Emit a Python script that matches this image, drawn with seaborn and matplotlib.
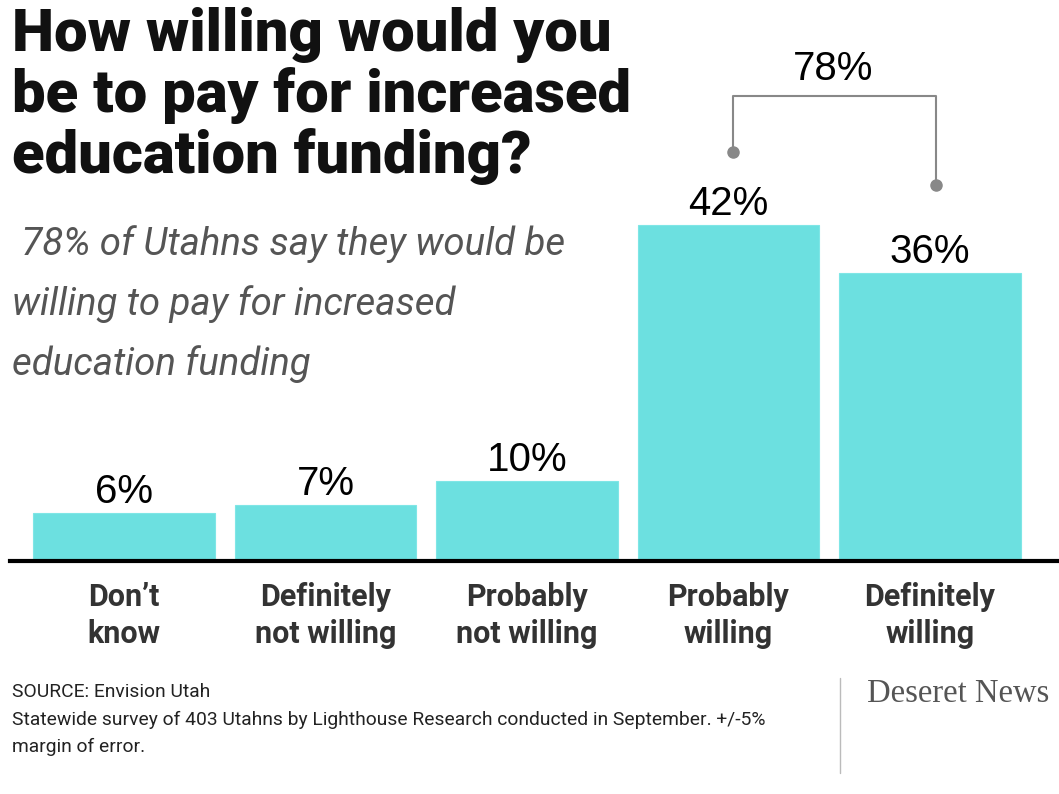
import matplotlib
matplotlib.use("Agg")
import matplotlib.pyplot as plt
import seaborn as sns
import pandas as pd

categories = ["Don\u2019t\nknow", "Definitely\nnot willing", "Probably\nnot willing", "Probably\nwilling", "Definitely\nwilling"]
values = [6, 7, 10, 42, 36]
value_labels = ["6%", "7%", "10%", "42%", "36%"]
bracket_label = "78%"
title_lines = ["How willing would you", "be to pay for increased", "education funding?"]
subtitle_lines = [" 78% of Utahns say they would be", "willing to pay for increased", "education funding"]
footer_lines = ["SOURCE: Envision Utah",
                "Statewide survey of 403 Utahns by Lighthouse Research conducted in September. +/-5%",
                "margin of error."]

sns.set_theme(style="white")
plt.rcParams['font.family'] = ['Liberation Sans', 'DejaVu Sans']

W, H = 1059, 794
fig = plt.figure(figsize=(W / 100, H / 100), dpi=100)
ax_left, ax_right = 10, 1059
ax_bottom, ax_top = 561, 40
ax = fig.add_axes([ax_left / W, 1 - ax_bottom / H, (ax_right - ax_left) / W, (ax_bottom - ax_top) / H])

df = pd.DataFrame({"cat": categories, "val": values})
sns.barplot(data=df, x="cat", y="val", color="#6CE0E0", saturation=1, width=0.9, ax=ax,
            edgecolor="#7FE6E6", linewidth=0.8)
ax.set_xlim(-0.566, 4.64)
ax.set_ylim(0, (ax_bottom - ax_top) / 8)
ax.set_xlabel("")
ax.set_ylabel("")
ax.set_yticks([])
sns.despine(ax=ax, left=True, top=True, right=True)
ax.spines["bottom"].set_color("black")
ax.spines["bottom"].set_linewidth(3)
ax.tick_params(axis="x", length=0, pad=15)
for lab in ax.get_xticklabels():
    lab.set_fontfamily("Roboto")
    lab.set_fontweight("bold")
    lab.set_fontsize(22)
    lab.set_color("#333333")
    lab.set_linespacing(1.3)

for i, (v, t) in enumerate(zip(values, value_labels)):
    ax.text(i, v + 1.3, t, ha="center", va="baseline", fontsize=29, color="black")

# bracket
yb = 58.1
ax.plot([3.02, 3.02, 4.03, 4.03], [51.1, yb, yb, 47.0], color="#888888", lw=1.5, clip_on=False)
ax.plot([3.02, 4.03], [51.1, 47.0], "o", color="#888888", ms=8, clip_on=False)
ax.text(3.52, 60.1, bracket_label, ha="center", va="baseline", fontsize=29, color="black")

# title
for line, yb_px in zip(title_lines, [51, 112, 173]):
    fig.text(12 / W, 1 - yb_px / H, line, ha="left", va="baseline", fontsize=43,
             fontweight="black", family="Roboto", color="#111111")
for line, yb_px in zip(subtitle_lines, [255, 315, 375]):
    fig.text(12 / W, 1 - yb_px / H, line, ha="left", va="baseline", fontsize=27.6,
             style="italic", fontweight="normal", family="Roboto", color="#555555")

# footer
for line, yb_px in zip(footer_lines, [697, 725, 752]):
    fig.text(12 / W, 1 - yb_px / H, line, ha="left", va="baseline", fontsize=13.9,
             family="Roboto", color="#222222")
fig.add_artist(plt.Line2D([840 / W, 840 / W], [1 - 678 / H, 1 - 773 / H], color="#bbbbbb", lw=1))
fig.text(867 / W, 1 - 694 / H, "Deseret News", ha="left", va="center", fontsize=23.5,
         family="Liberation Serif", color="#555555")

fig.savefig("out.png", dpi=100)
